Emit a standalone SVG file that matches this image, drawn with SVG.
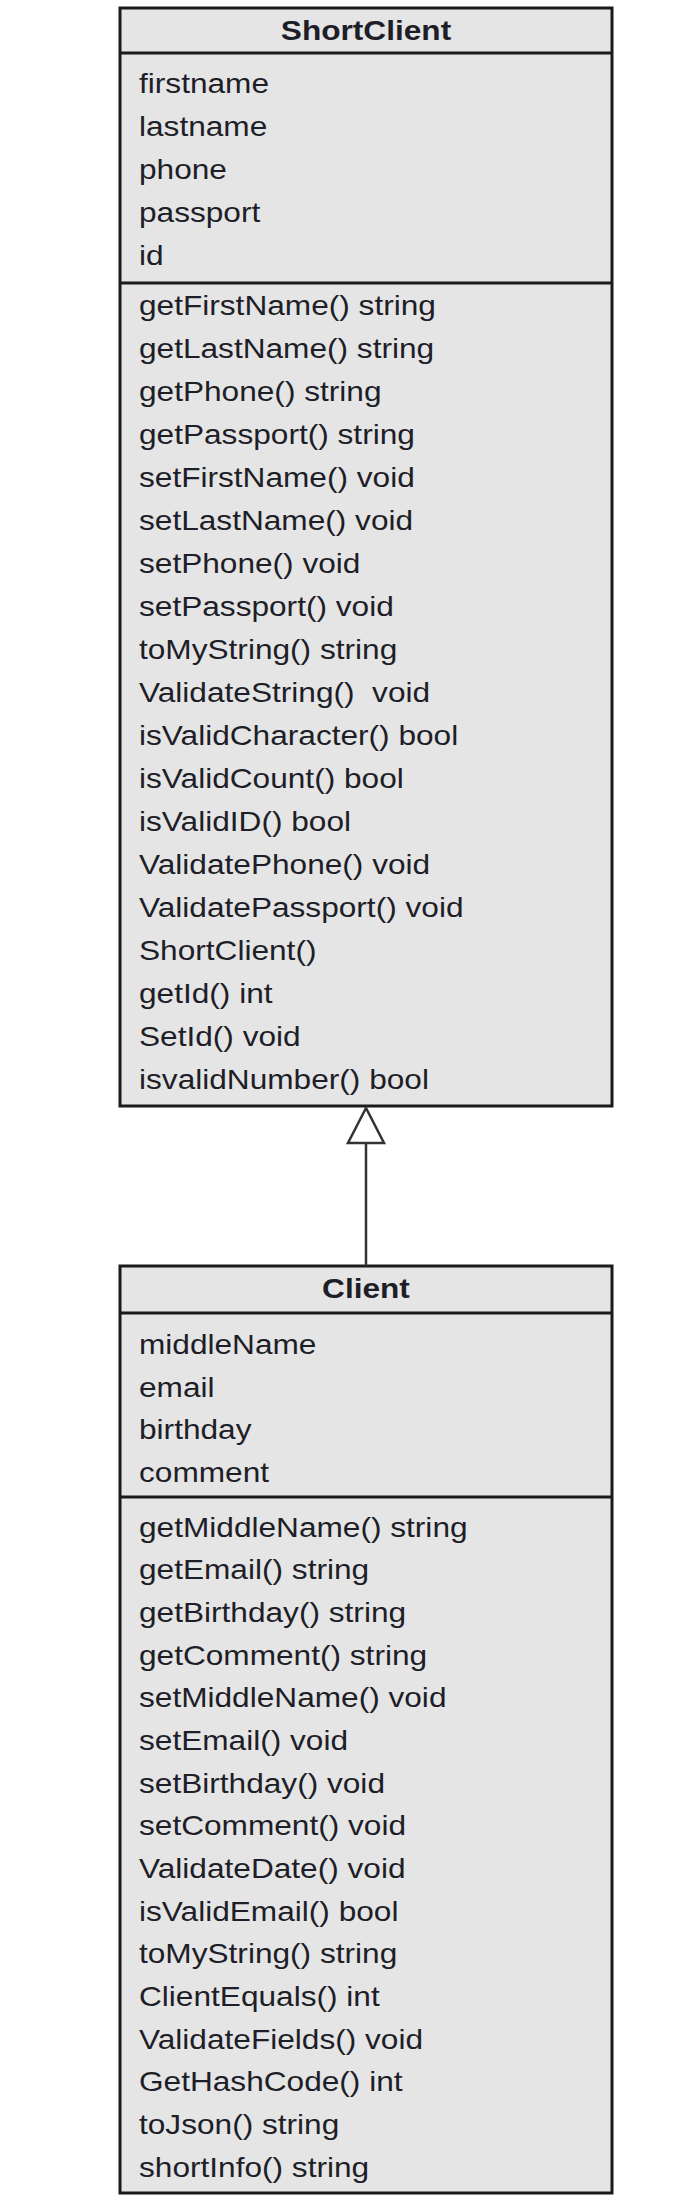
<svg xmlns="http://www.w3.org/2000/svg" width="683" height="2204" viewBox="0 0 683 2204">
<style>
.box{fill:#e5e5e5;stroke:#1a1a1a;stroke-width:3}
.div{stroke:#1a1a1a;stroke-width:3}
.t{font-family:"Liberation Sans",Arial,sans-serif;font-size:27.5px;fill:#1e1e28}
.h{font-family:"Liberation Sans",Arial,sans-serif;font-size:27.5px;font-weight:bold;fill:#1e1e28;text-anchor:middle}
.edge{stroke:#333;stroke-width:2.5;fill:none}
.tri{fill:#fff;stroke:#333;stroke-width:2.5}
</style>
<rect width="683" height="2204" fill="#fff"/>
<g id="ShortClient">
<rect class="box" x="120" y="8" width="492" height="1098"/>
<line class="div" x1="120" y1="53" x2="612" y2="53"/>
<line class="div" x1="120" y1="283" x2="612" y2="283"/>
<g transform="translate(366,0) scale(1.15,1) translate(-366,0)">
<text class="h" x="366" y="40">ShortClient</text>
</g>
<g transform="translate(139,0) scale(1.15,1) translate(-139,0)">
<text class="t" x="139" y="93.5">firstname</text>
<text class="t" x="139" y="136.5">lastname</text>
<text class="t" x="139" y="179.5">phone</text>
<text class="t" x="139" y="222.5">passport</text>
<text class="t" x="139" y="265.5">id</text>
<text class="t" x="139" y="315">getFirstName() string</text>
<text class="t" x="139" y="358">getLastName() string</text>
<text class="t" x="139" y="401">getPhone() string</text>
<text class="t" x="139" y="444">getPassport() string</text>
<text class="t" x="139" y="487">setFirstName() void</text>
<text class="t" x="139" y="530">setLastName() void</text>
<text class="t" x="139" y="573">setPhone() void</text>
<text class="t" x="139" y="616">setPassport() void</text>
<text class="t" x="139" y="659">toMyString() string</text>
<text class="t" x="139" y="702" xml:space="preserve">ValidateString()  void</text>
<text class="t" x="139" y="745">isValidCharacter() bool</text>
<text class="t" x="139" y="788">isValidCount() bool</text>
<text class="t" x="139" y="831">isValidID() bool</text>
<text class="t" x="139" y="874">ValidatePhone() void</text>
<text class="t" x="139" y="917">ValidatePassport() void</text>
<text class="t" x="139" y="960">ShortClient()</text>
<text class="t" x="139" y="1003">getId() int</text>
<text class="t" x="139" y="1046">SetId() void</text>
<text class="t" x="139" y="1089">isvalidNumber() bool</text>
</g>
</g>
<g id="Client">
<rect class="box" x="120" y="1266" width="492" height="927"/>
<line class="div" x1="120" y1="1313" x2="612" y2="1313"/>
<line class="div" x1="120" y1="1497" x2="612" y2="1497"/>
<g transform="translate(366,0) scale(1.15,1) translate(-366,0)">
<text class="h" x="366" y="1298">Client</text>
</g>
<g transform="translate(139,0) scale(1.15,1) translate(-139,0)">
<text class="t" x="139" y="1354">middleName</text>
<text class="t" x="139" y="1396.6">email</text>
<text class="t" x="139" y="1439.2">birthday</text>
<text class="t" x="139" y="1481.8">comment</text>
<text class="t" x="139" y="1536.7">getMiddleName() string</text>
<text class="t" x="139" y="1579.4">getEmail() string</text>
<text class="t" x="139" y="1622">getBirthday() string</text>
<text class="t" x="139" y="1664.7">getComment() string</text>
<text class="t" x="139" y="1707.4">setMiddleName() void</text>
<text class="t" x="139" y="1750">setEmail() void</text>
<text class="t" x="139" y="1792.7">setBirthday() void</text>
<text class="t" x="139" y="1835.4">setComment() void</text>
<text class="t" x="139" y="1878">ValidateDate() void</text>
<text class="t" x="139" y="1920.7">isValidEmail() bool</text>
<text class="t" x="139" y="1963.4">toMyString() string</text>
<text class="t" x="139" y="2006">ClientEquals() int</text>
<text class="t" x="139" y="2048.7">ValidateFields() void</text>
<text class="t" x="139" y="2091.4">GetHashCode() int</text>
<text class="t" x="139" y="2134">toJson() string</text>
<text class="t" x="139" y="2176.7">shortInfo() string</text>
</g>
</g>
<g id="connectors">
<line class="edge" x1="366" y1="1143" x2="366" y2="1266"/>
<polygon class="tri" points="366,1108 348,1143 384,1143"/>
</g>
</svg>
